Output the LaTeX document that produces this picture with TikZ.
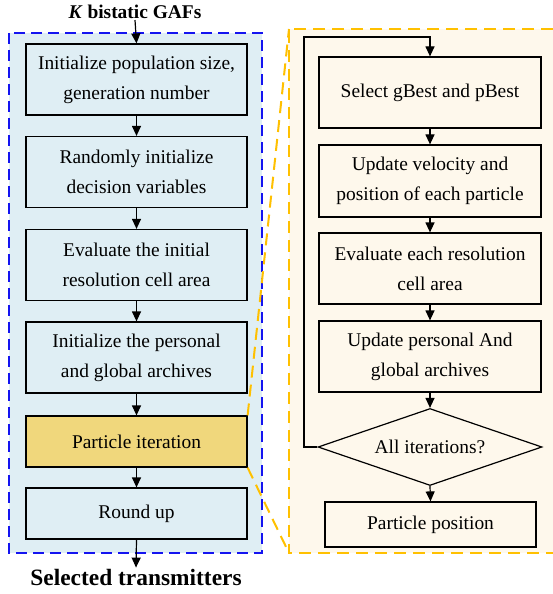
\documentclass[tikz,border=0pt]{standalone}
\usepackage{fontspec}
\setmainfont{Liberation Serif}
\usetikzlibrary{arrows.meta,shapes.geometric}
\definecolor{bluebg}{HTML}{DFEEF4}
\definecolor{orangebg}{HTML}{FEF8EC}
\definecolor{goldbox}{HTML}{F0D77C}
\definecolor{dashblue}{HTML}{1414F0}
\definecolor{dashorange}{HTML}{FFC000}
\tikzset{
  lbox/.style={draw=black, line width=1.2bp, fill=bluebg, minimum width=221bp, inner sep=0pt, align=center, font=\fontsize{19.5}{30}\selectfont},
  rbox/.style={draw=black, line width=1.2bp, fill=orangebg, minimum width=222bp, inner sep=0pt, align=center, font=\fontsize{19.5}{30}\selectfont},
  arr/.style={line width=1.2bp, -{Triangle[length=10bp,width=9bp]}},
  blueframe/.style={draw=dashblue, line width=2bp, dash pattern=on 11bp off 6bp},
  orangeframe/.style={draw=dashorange, line width=2bp, dash pattern=on 12bp off 7bp},
}
\begin{document}
\begin{tikzpicture}[x=1bp,y=-1bp]
\useasboundingbox (0,0) rectangle (553,594);
% backgrounds
\fill[bluebg] (9,33) rectangle (262,553);
\fill[orangebg] (289,29) rectangle (553,553);
\draw[blueframe] (9,33) rectangle (262,553);
\draw[orangeframe] (553,29) -- (289,29) -- (289,553) -- (553,553);
% left column
\node[lbox, minimum height=71bp] (b1) at (136.5,79.5) {Initialize population size,\\generation number};
\node[lbox, minimum height=71bp] (b2) at (136.5,172) {Randomly initialize\\decision variables};
\node[lbox, minimum height=71bp] (b3) at (136.5,265) {Evaluate the initial\\resolution cell area};
\node[lbox, minimum height=71bp] (b4) at (136.5,357.5) {Initialize the personal\\and global archives};
\node[lbox, minimum height=51bp, fill=goldbox] (pi) at (136.5,441.5) {Particle iteration};
\node[lbox, minimum height=51bp] (ru) at (136.5,513.5) {Round up};
\node[font=\fontsize{19.5}{24}\selectfont\bfseries, inner sep=1pt] (top) at (135,12) {\textit{K} bistatic GAFs};
\node[font=\fontsize{23.5}{28}\selectfont\bfseries, inner sep=1pt] (sel) at (136,577) {Selected transmitters};
\draw[arr] (top.south) -- (b1.north);
\draw[arr] (b1) -- (b2);
\draw[arr] (b2) -- (b3);
\draw[arr] (b3) -- (b4);
\draw[arr] (b4) -- (pi);
\draw[arr] (pi) -- (ru);
\draw[arr] (ru.south) -- (sel.north);
% right column
\node[rbox, minimum height=71bp] (r1) at (430,92.5) {Select gBest and pBest};
\node[rbox, minimum height=72bp] (r2) at (430,181) {Update velocity and\\position of each particle};
\node[rbox, minimum height=71bp] (r3) at (430,268.5) {Evaluate each resolution\\cell area};
\node[rbox, minimum height=71bp] (r4) at (430,356.5) {Update personal And\\global archives};
\node[diamond, draw=black, line width=1.2bp, fill=orangebg, aspect=2.9, minimum width=224bp, minimum height=77bp, inner sep=0pt, font=\fontsize{19.5}{24}\selectfont] (dia) at (430,447) {All iterations?};
\node[rbox, minimum width=211bp, minimum height=45bp] (pp) at (430.5,524.5) {Particle position};
\coordinate (loopx) at (304,37);
\coordinate (looptop) at (430,37);
\draw[arr] (r1) -- (r2);
\draw[arr] (r2) -- (r3);
\draw[arr] (r3) -- (r4);
\draw[arr] (r4) -- (dia);
\draw[arr] (dia.south) -- (pp.north);
\draw[arr] (dia.west) -| (loopx) -- (looptop) -- (r1.north);
% zoom lines
\coordinate (otl) at (289,29);
\coordinate (obl) at (289,553);
\draw[orangeframe] (pi.north east) -- (otl);
\draw[orangeframe] (pi.south east) -- (obl);
\end{tikzpicture}
\end{document}
